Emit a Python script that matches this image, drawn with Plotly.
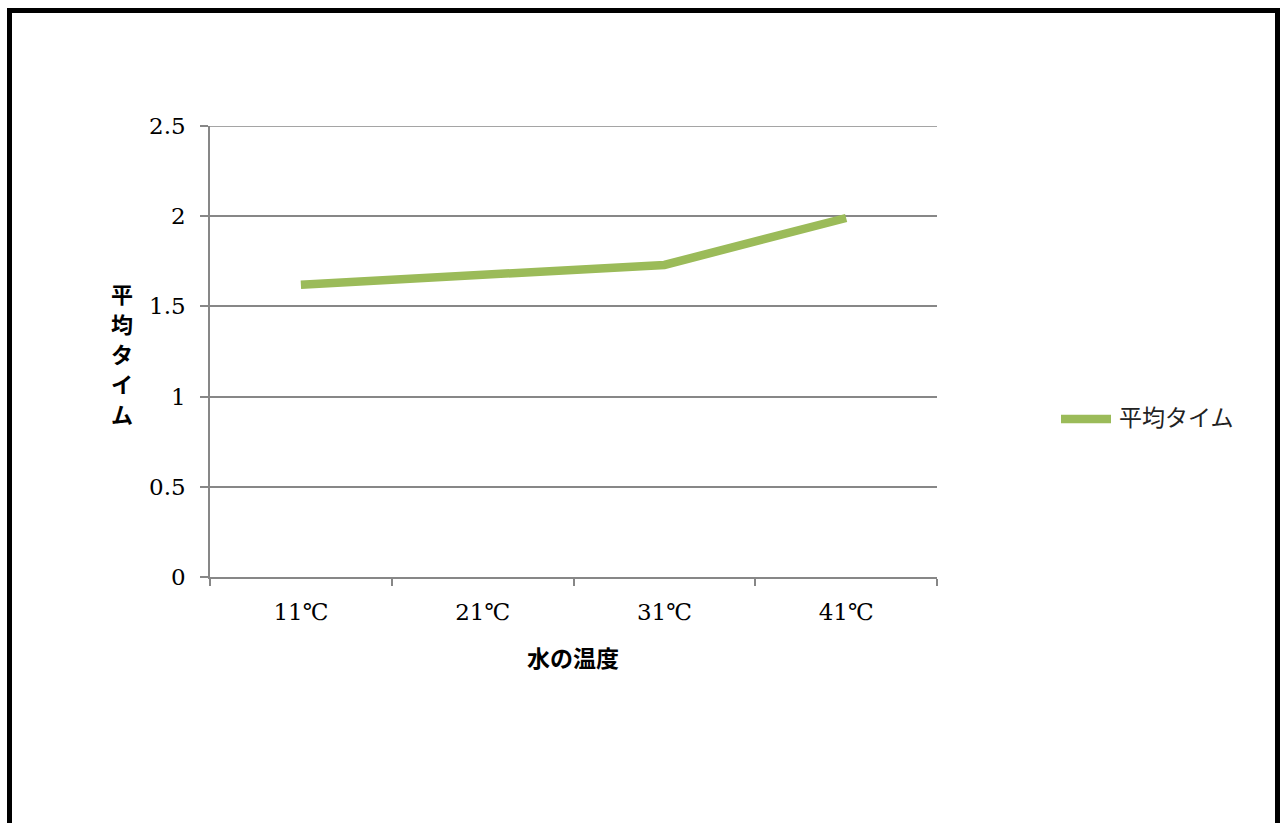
import plotly.graph_objects as go

categories = ["11℃", "21℃", "31℃", "41℃"]
avg_time = [1.62, 1.67, 1.73, 1.99]
series_name = "平均タイム"
x_title = "水の温度"
y_title = "平均タイム"
line_color = "#9BBB59"

W, H = 1282, 823
L, R, T, B = 210, 937, 126, 577
pw, ph = R - L, B - T

def px_x(p):
    return (p - L) / pw

def px_y(p):
    return (B - p) / ph

serif = "DejaVu Serif, Liberation Serif, serif"
cjk = "Noto Sans CJK JP, sans-serif"
grid = "#878787"

fig = go.Figure()
fig.add_trace(go.Scatter(
    x=categories, y=avg_time, mode="lines", name=series_name,
    line=dict(color=line_color, width=8.5),
))

# vertical (stacked) y-axis title, one character per annotation
ytitle_ann = []
for i, ch in enumerate(y_title):
    ytitle_ann.append(dict(
        text=ch, xref="paper", yref="paper",
        x=px_x(122), y=px_y(293 + i * 30), xanchor="center", yanchor="middle",
        showarrow=False, font=dict(family=cjk, size=22, color="black", weight="bold")))

fig.update_layout(
    width=W, height=H,
    margin=dict(l=L, r=W - R, t=T, b=H - B, pad=0),
    paper_bgcolor="white", plot_bgcolor="white",
    showlegend=False,
    xaxis=dict(
        type="category", showgrid=False, showline=True, linecolor=grid, linewidth=1.5,
        ticks="outside", tickson="boundaries", ticklen=7, tickcolor=grid, tickwidth=1.5,
        tickfont=dict(family=serif, size=23, color="black"),
        ticklabelstandoff=14,
        range=[-0.5, 3.5],
    ),
    yaxis=dict(
        range=[0, 2.5], dtick=0.5, showgrid=True, gridcolor=grid, gridwidth=1.5,
        showline=True, linecolor=grid, linewidth=1.5, zeroline=False,
        ticks="outside", ticklen=8, tickcolor=grid, tickwidth=1.5,
        tickfont=dict(family=serif, size=23, color="black"),
        ticklabelstandoff=10,
    ),
    shapes=[
        dict(type="line", xref="x domain", yref="y", x0=0, x1=1, y0=2.5, y1=2.5,
             line=dict(color=grid, width=1.5), layer="below"),
        dict(type="line", xref="paper", yref="paper",
             x0=px_x(1061), x1=px_x(1111), y0=px_y(419), y1=px_y(419),
             line=dict(color=line_color, width=8.5)),
        dict(type="rect", xref="paper", yref="paper",
             x0=px_x(9.5), x1=px_x(1277.5), y0=px_y(860), y1=px_y(10.5),
             line=dict(color="black", width=5), fillcolor="rgba(0,0,0,0)", layer="above"),
    ],
    annotations=ytitle_ann + [
        dict(text=x_title, xref="paper", yref="paper",
             x=px_x(573), y=px_y(657), xanchor="center", yanchor="middle",
             showarrow=False, font=dict(family=cjk, size=23, color="black", weight="bold")),
        dict(text=series_name, xref="paper", yref="paper",
             x=px_x(1117), y=px_y(416), xanchor="left", yanchor="middle",
             showarrow=False, font=dict(family=cjk, size=23, color="#222")),
    ],
)

fig.write_html("out.html")
